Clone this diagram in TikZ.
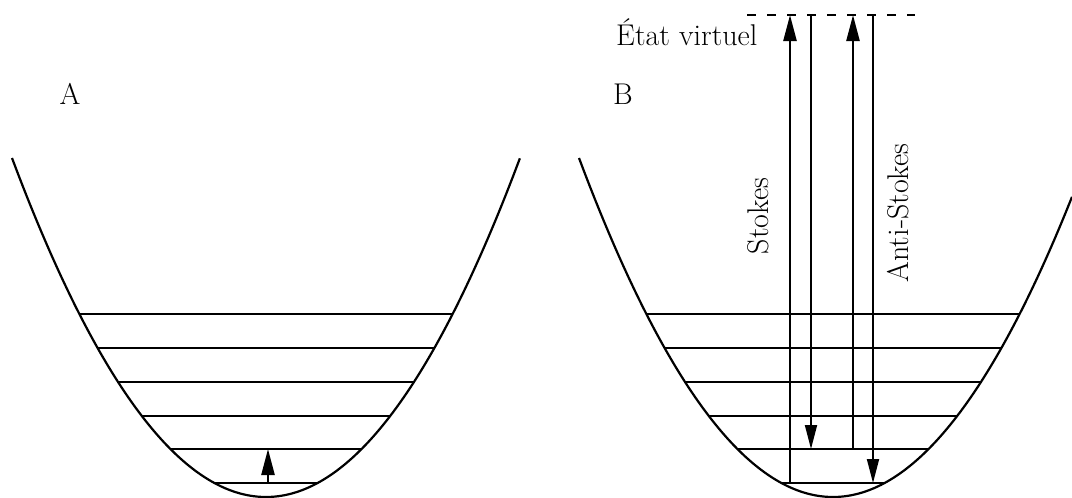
\documentclass[tikz,border=0pt]{standalone}
\usepackage{fontspec}
\usepackage{tikz}
\usetikzlibrary{arrows.meta}
\tikzset{
  well/.style={line width=2.2pt, line join=round},
  level/.style={line width=1.8pt},
  transup/.style={-{Triangle[length=26pt,width=13pt]}, line width=2.4pt},
  transdown/.style={-{Triangle[length=24pt,width=12pt]}, line width=1.8pt},
  virtual/.style={line width=1.8pt, dash pattern=on 9pt off 11pt},
  lbl/.style={font=\fontsize{30}{36}\selectfont, inner sep=0pt}
}

\begin{document}
\begin{tikzpicture}[x=1pt, y=-1pt]
  \useasboundingbox (0,0) rectangle (1072,498);
  % puits A
  \draw[well] plot[domain=-1:1, samples=81, smooth] ({266+254*\x},{497-339*\x*\x});
  \foreach \ly in {314,348,382,416,449,483} {
    \pgfmathsetmacro\hw{254*sqrt((497-\ly)/339)}
    \draw[level] (266-\hw,\ly) -- (266+\hw,\ly);
  }
  \coordinate (a0) at (268,483);
  \coordinate (a1) at (268,449);
  \draw[transup] (a0) -- (a1);
  \node[lbl] (labA) at (70,94) {A};
  % puits B
  \draw[well] plot[domain=-1:0.941, samples=81, smooth] ({833+254*\x},{497-339*\x*\x});
  \foreach \ly in {314,348,382,416,449,483} {
    \pgfmathsetmacro\hw{254*sqrt((497-\ly)/339)}
    \draw[level] (833-\hw,\ly) -- (833+\hw,\ly);
  }
  \node[lbl] (labB) at (623,94) {B};
  \coordinate (vl) at (747,15);
  \coordinate (vr) at (915,15);
  \draw[virtual] (vl) -- (vr);
  \node[lbl, anchor=base west] (labvirt) at (616,45) {État virtuel};
  \coordinate (g1) at (790,483);
  \coordinate (v1) at (790,15);
  \coordinate (v2) at (811,15);
  \coordinate (e2) at (811,449);
  \coordinate (e3) at (853,449);
  \coordinate (v3) at (853,15);
  \coordinate (v4) at (873,15);
  \coordinate (g4) at (873,483);
  \draw[transup] (g1) -- (v1);
  \draw[transdown] (v2) -- (e2);
  \draw[transup] (e3) -- (v3);
  \draw[transdown] (v4) -- (g4);
  \node[lbl, rotate=90] (labstokes) at (758,216) {Stokes};
  \node[lbl, rotate=90] (labanti) at (898,213) {Anti-Stokes};
\end{tikzpicture}
\end{document}
